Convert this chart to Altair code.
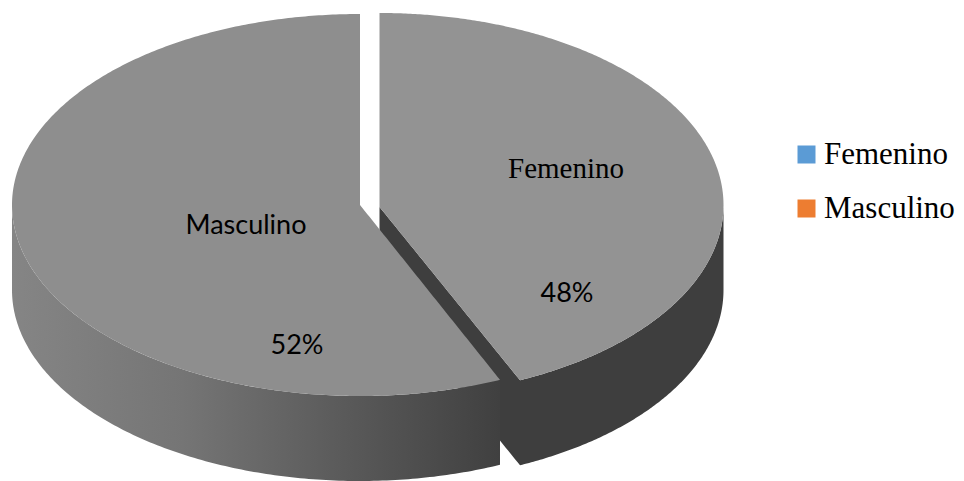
import numpy as np
import pandas as pd
import altair as alt

categories = ["Femenino", "Masculino"]
shares = [48, 52]
legend_colors = ["#5b9bd5", "#ed7d31"]

# Geometry of the drawing, in the picture's own pixels
M_CX, M_CY, M_RX, M_RY = 360.0, 205.0, 348.0, 191.0
F_CX, F_CY, F_RX, F_RY = 379.5, 205.0, 344.0, 192.0
DEPTH = 85.0
M_CUT_X = 500.0
F_CUT_X = 520.0


def upper(x, cx, cy, rx, ry):
    return cy - ry * np.sqrt(np.clip(1 - ((x - cx) / rx) ** 2, 0, 1))


def lower(x, cx, cy, rx, ry):
    return cy + ry * np.sqrt(np.clip(1 - ((x - cx) / rx) ** 2, 0, 1))


def xs_between(a, b, cx, rx):
    """Sample by ellipse angle, so the round ends stay smooth."""
    ta = np.arccos(np.clip((a - cx) / rx, -1, 1))
    tb = np.arccos(np.clip((b - cx) / rx, -1, 1))
    return cx + rx * np.cos(np.linspace(ta, tb, 160))


def cut_line(x, ax, ay, bx, by):
    return ay + (x - ax) / (bx - ax) * (by - ay)


m = (M_CX, M_CY, M_RX, M_RY)
f = (F_CX, F_CY, F_RX, F_RY)
m_end_y = float(lower(M_CUT_X, *m))
f_end_y = float(lower(F_CUT_X, *f))

# Masculino face
x1 = xs_between(M_CX - M_RX, M_CX, M_CX, M_RX)
x2 = np.linspace(M_CX + 0.01, M_CUT_X, 60)
m_face = pd.DataFrame({
    "x": np.r_[x1, x2],
    "y": np.r_[upper(x1, *m), cut_line(x2, M_CX, M_CY, M_CUT_X, m_end_y)],
    "y2": np.r_[lower(x1, *m), lower(x2, *m)],
})

# Masculino outer wall
x3 = xs_between(M_CX - M_RX, M_CUT_X, M_CX, M_RX)
m_wall = pd.DataFrame({"x": x3, "y": lower(x3, *m), "y2": lower(x3, *m) + DEPTH})

# Femenino face
x4 = np.linspace(F_CX, F_CUT_X, 60)
x5 = xs_between(F_CUT_X + 0.01, F_CX + F_RX, F_CX, F_RX)
f_edge = np.r_[cut_line(x4, F_CX, F_CY + 2, F_CUT_X, f_end_y), lower(x5, *f)]
f_face = pd.DataFrame({
    "x": np.r_[x4, x5],
    "y": np.r_[upper(x4, *f), upper(x5, *f)],
    "y2": f_edge,
})

# Femenino cut wall and outer wall, as one band below the face's lower edge
f_wall = pd.DataFrame({"x": f_face["x"], "y": f_edge, "y2": f_edge + DEPTH})

X = alt.X("x:Q", scale=alt.Scale(domain=[8, 956], nice=False, zero=False), axis=None)
Y = alt.Y("y:Q", scale=alt.Scale(domain=[481, 8], nice=False, zero=False), axis=None)
Y2 = alt.Y2("y2:Q")


def area(df, fill):
    return alt.Chart(df).mark_area(color=fill, interpolate="linear", opacity=1).encode(x=X, y=Y, y2=Y2)


wall_gradient = alt.Gradient(
    gradient="linear", x1=0, x2=1, y1=0, y2=0,
    stops=[
        alt.GradientStop(color="#858585", offset=0),
        alt.GradientStop(color="#757575", offset=0.35),
        alt.GradientStop(color="#5a5a5a", offset=0.68),
        alt.GradientStop(color="#404040", offset=1),
    ],
)

pie_text = pd.DataFrame({
    "x": [566, 246, 567, 297],
    "y": [169, 226, 294, 346],
    "t": ["Femenino", "Masculino", f"{shares[0]}%", f"{shares[1]}%"],
    "font": ["Liberation Serif", "Lato", "Lato", "Lato"],
})


def labels(df, font, size):
    return alt.Chart(df).mark_text(font=font, fontSize=size, color="#000000", align="center", baseline="middle").encode(
        x=X, y=Y, text="t:N"
    )


legend_df = pd.DataFrame({"cat": categories})
legend_layer = alt.Chart(legend_df).mark_square(opacity=0).encode(
    color=alt.Color(
        "cat:N",
        scale=alt.Scale(domain=categories, range=legend_colors),
        legend=alt.Legend(
            title=None, orient="none", legendX=783, legendY=131,
            symbolType="square", symbolSize=324, symbolOpacity=1, symbolStrokeWidth=0,
            labelFont="Liberation Serif", labelFontSize=31, labelColor="#000000",
            labelOffset=2, rowPadding=22, labelLimit=200,
        ),
    )
)

chart = alt.layer(
    area(f_wall, "#3e3e3e"),
    area(f_face, "#939393"),
    area(m_wall, wall_gradient),
    area(m_face, "#8e8e8e"),
    labels(pie_text[pie_text.font == "Liberation Serif"], "Liberation Serif", 29),
    labels(pie_text[pie_text.font == "Lato"], "Lato", 27),
    legend_layer,
).properties(
    width=948, height=473, padding=0, autosize=alt.AutoSizeParams(type="none"),
).configure_view(stroke=None)

chart.save("out.html", embed_options={"renderer": "svg", "actions": False})
